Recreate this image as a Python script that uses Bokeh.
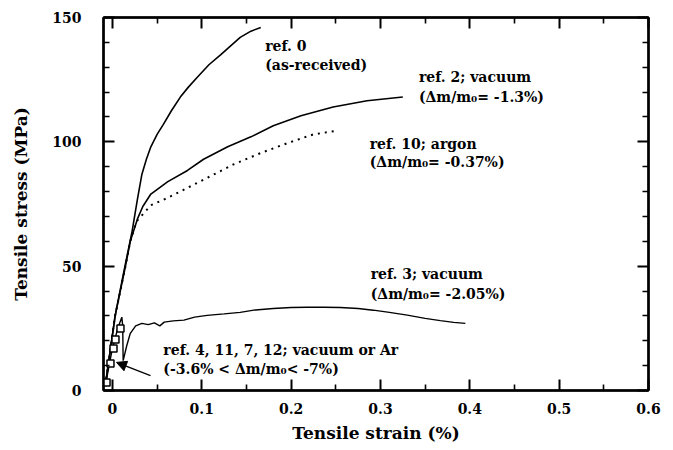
from bokeh.plotting import figure
from bokeh.models import Label, Arrow, NormalHead, LinearAxis, FixedTicker, Range1d
from bokeh.embed import file_html
from bokeh.resources import INLINE

# Tensile stress-strain curves (strain in %, stress in MPa)
ref0_strain = [-0.008, 0.003, 0.014, 0.022, 0.028, 0.033, 0.038, 0.043, 0.050, 0.057, 0.066,
               0.076, 0.085, 0.095, 0.108, 0.121, 0.132, 0.143, 0.155, 0.166]
ref0_stress = [2, 30, 50, 64, 77, 87, 93, 98, 103, 107, 112.5, 118, 122, 126, 131, 135, 138.5,
               142, 144.5, 146]

ref2_strain = [-0.008, 0.003, 0.0146, 0.020, 0.028, 0.034, 0.043, 0.062, 0.084, 0.102,
               0.129, 0.155, 0.180, 0.211, 0.247, 0.285, 0.325]
ref2_stress = [2, 30, 50, 60, 69, 74, 79, 84, 88.5, 93, 98, 102, 106.5, 110.5, 114, 116.5, 118]

ref10_strain = [-0.008, 0.003, 0.0146, 0.020, 0.027, 0.043, 0.062, 0.084, 0.106, 0.136,
                0.166, 0.196, 0.225, 0.252]
ref10_stress = [2, 30, 50, 60, 68, 74.5, 77.5, 81.5, 85.5, 91, 95.5, 99.5, 103, 104.5]

ref3_strain = [-0.008, 0.0, 0.006, 0.0105, 0.0115, 0.012, 0.016, 0.020, 0.026, 0.033, 0.040,
               0.047, 0.053, 0.058, 0.068, 0.080, 0.092, 0.106, 0.125, 0.143, 0.160, 0.180,
               0.200, 0.218, 0.237, 0.255, 0.275, 0.292, 0.310, 0.330, 0.350, 0.367, 0.382, 0.395]
ref3_stress = [2, 17, 25, 29.5, 26, 12, 18, 23, 26, 27, 26.5, 27.2, 26, 27.5, 28, 28.3, 29.5,
               30.2, 30.8, 31.4, 32.4, 33, 33.4, 33.5, 33.5, 33.4, 33, 32.3, 31.4, 30.3, 29,
               28.1, 27.4, 27]

# Early-failure specimens (ref. 4, 11, 7, 12)
fail_strain = [-0.0066, -0.0022, 0.0012, 0.0034, 0.009]
fail_stress = [3.2, 10.9, 16.9, 20.5, 24.9]

x_ticks = [0, 0.1, 0.2, 0.3, 0.4, 0.5, 0.6]
x_tick_labels = ["0", "0.1", "0.2", "0.3", "0.4", "0.5", "0.6"]
x_minor = [0.05, 0.15, 0.25, 0.35, 0.45, 0.55]
y_ticks = [0, 50, 100, 150]
y_tick_labels = ["0", "50", "100", "150"]
y_minor = [10, 20, 30, 40, 60, 70, 80, 90, 110, 120, 130, 140]

FONT = "DejaVu Serif"

p = figure(width=673, height=450, x_range=Range1d(-0.01, 0.6), y_range=Range1d(0, 150),
           output_backend="svg", toolbar_location=None,
           min_border_left=103, min_border_right=25, min_border_top=17, min_border_bottom=60,
           x_axis_label="Tensile strain (%)", y_axis_label="Tensile stress (MPa)")
p.grid.visible = False
p.outline_line_color = "black"
p.outline_line_width = 2
p.background_fill_color = "white"
p.border_fill_color = "white"

xt = FixedTicker(ticks=x_ticks, minor_ticks=x_minor)
yt = FixedTicker(ticks=y_ticks, minor_ticks=y_minor)


def style_axis(ax):
    ax.axis_line_width = 2.5
    ax.axis_line_color = "black"
    ax.major_tick_in = 11
    ax.major_tick_out = 0
    ax.minor_tick_in = 6
    ax.minor_tick_out = 0
    ax.major_tick_line_width = 2
    ax.minor_tick_line_width = 1.6
    ax.major_tick_line_color = "black"
    ax.minor_tick_line_color = "black"
    ax.major_label_text_font = FONT
    ax.major_label_text_font_style = "bold"
    ax.major_label_text_font_size = "14px"
    ax.major_label_text_color = "black"
    ax.axis_label_text_font = FONT
    ax.axis_label_text_font_style = "bold"
    ax.axis_label_text_font_size = "17px"
    ax.axis_label_text_color = "black"


p.xaxis.ticker = xt
p.yaxis.ticker = yt
p.xaxis.major_label_overrides = dict(zip(x_ticks, x_tick_labels))
p.yaxis.major_label_overrides = dict(zip(y_ticks, y_tick_labels))
style_axis(p.xaxis[0])
style_axis(p.yaxis[0])
p.xaxis.major_label_standoff = 12
p.xaxis.axis_label_standoff = 6
p.yaxis.major_label_standoff = 22
p.yaxis.axis_label_standoff = 18

# mirrored tick marks on the top and right edges, without labels
top_ax = LinearAxis(ticker=xt, major_label_overrides={t: "" for t in x_ticks})
right_ax = LinearAxis(ticker=yt, major_label_overrides={t: "" for t in y_ticks})
style_axis(top_ax)
style_axis(right_ax)
p.add_layout(top_ax, "above")
p.add_layout(right_ax, "right")

# curves
p.line(ref0_strain, ref0_stress, line_color="black", line_width=1.6)
p.line(ref2_strain, ref2_stress, line_color="black", line_width=1.6)
p.line(ref10_strain, ref10_stress, line_color="black", line_width=2, line_dash="2 5")
p.line(ref3_strain, ref3_stress, line_color="black", line_width=1.4)
p.scatter(fail_strain, fail_stress, marker="square", size=7, fill_color="white",
          line_color="black", line_width=1.5)

p.add_layout(Arrow(end=NormalHead(size=10, fill_color="black", line_color="black"),
                   x_start=0.0426, y_start=6.0, x_end=0.0045, y_end=11.3,
                   line_color="black", line_width=1.3))


def add_text(x, y, text):
    p.add_layout(Label(x=x, y=y, text=text, text_font=FONT, text_font_style="bold",
                       text_font_size="14px", text_baseline="middle", text_color="black"))


add_text(0.171, 138.7, "ref. 0")
add_text(0.171, 130.7, "(as-received)")
add_text(0.343, 125.9, "ref. 2; vacuum")
add_text(0.343, 118.2, "(\u0394m/m\u2080= -1.3%)")
add_text(0.288, 99.3, "ref. 10; argon")
add_text(0.288, 91.7, "(\u0394m/m\u2080= -0.37%)")
add_text(0.289, 47.0, "ref. 3; vacuum")
add_text(0.289, 39.0, "(\u0394m/m\u2080= -2.05%)")
add_text(0.057, 16.1, "ref. 4, 11, 7, 12; vacuum or Ar")
add_text(0.057, 8.8, "(-3.6% < \u0394m/m\u2080< -7%)")

open("out.html", "w").write(file_html(p, INLINE))
